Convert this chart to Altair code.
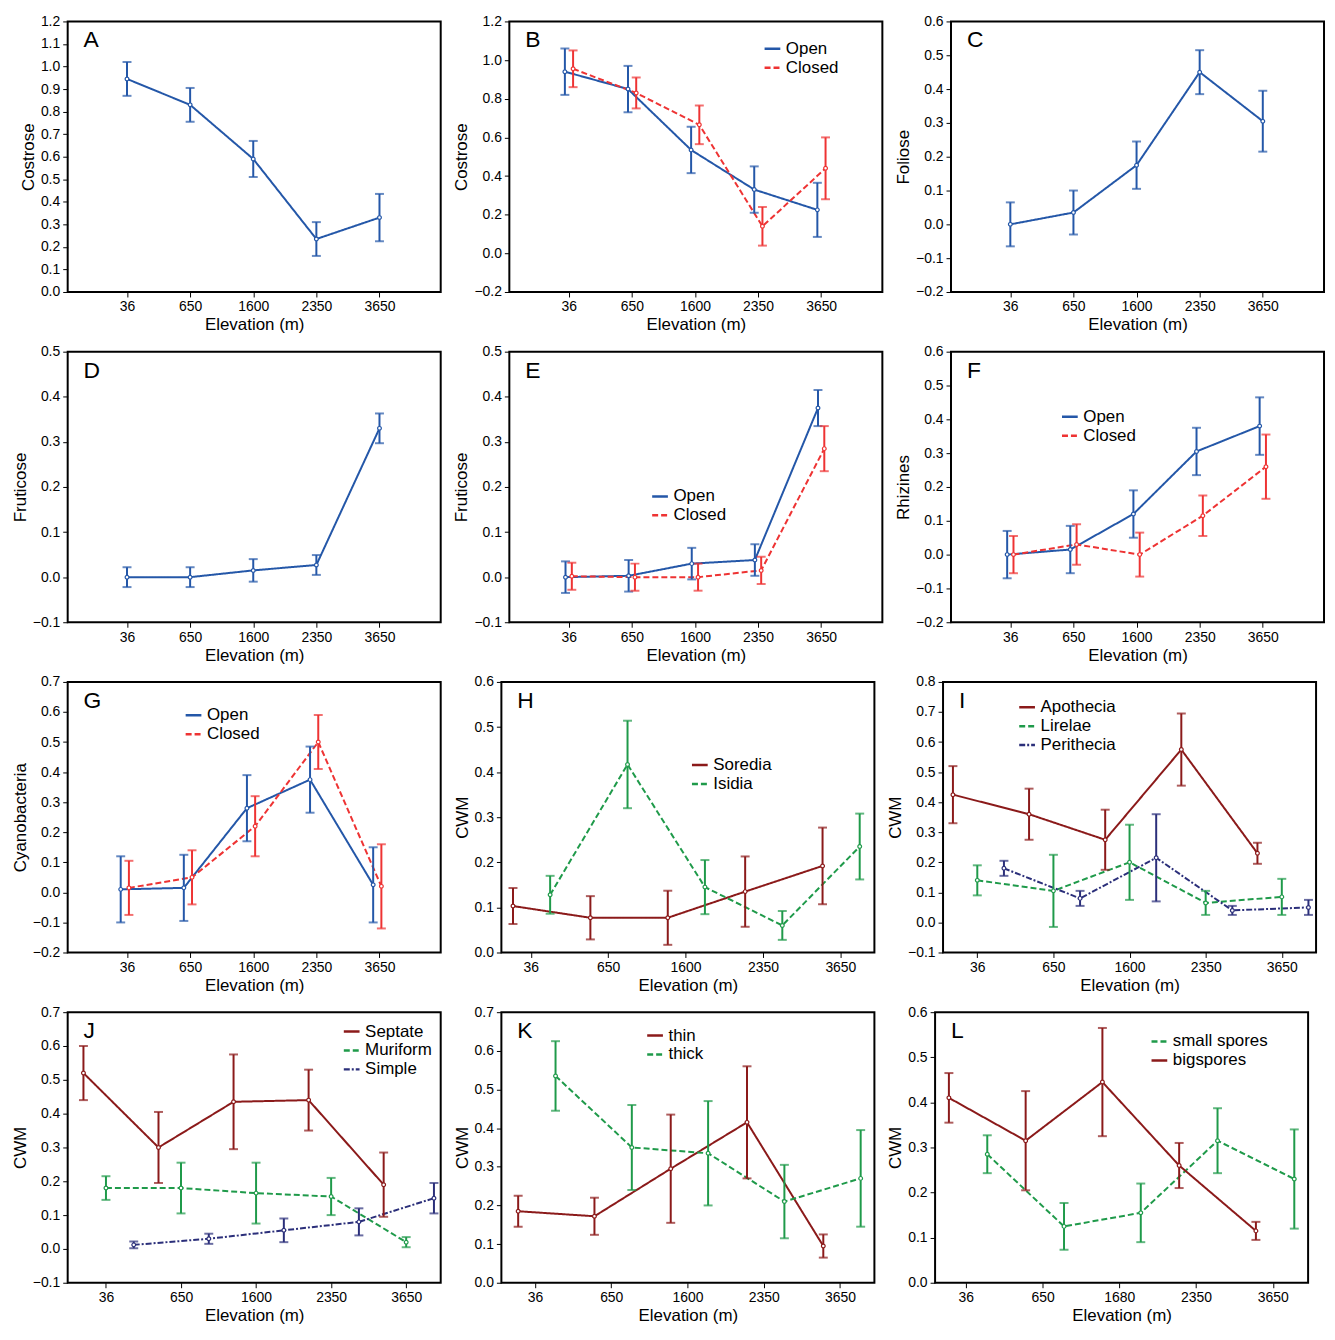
import altair as alt
import pandas as pd

BLUE, RED, DRED, GREEN, NAVY = "#2457a8", "#ee3333", "#8b1a1a", "#1f9a4a", "#2b2f7a"
L1 = ["36", "650", "1600", "2350", "3650"]
L2 = ["36", "650", "1680", "2350", "3650"]

# (name, color, dash, offset, values, errors)
A_s = [("Open", BLUE, [1, 0], 0.0, [0.945, 0.83, 0.59, 0.235, 0.33], [0.075, 0.075, 0.08, 0.075, 0.105])]
B_s = [("Open", BLUE, [1, 0], -0.06, [0.94, 0.85, 0.535, 0.33, 0.225], [0.12, 0.12, 0.12, 0.12, 0.14]),
       ("Closed", RED, [6, 3], 0.07, [0.955, 0.83, 0.665, 0.14, 0.44], [0.095, 0.08, 0.1, 0.1, 0.16])]
C_s = [("Open", BLUE, [1, 0], 0.0, [0.0, 0.035, 0.175, 0.45, 0.305], [0.065, 0.065, 0.07, 0.065, 0.09])]
D_s = [("Open", BLUE, [1, 0], 0.0, [0.0, 0.0, 0.015, 0.027, 0.33], [0.022, 0.022, 0.025, 0.022, 0.033])]
E_s = [("Open", BLUE, [1, 0], -0.05, [0.0, 0.003, 0.03, 0.038, 0.375], [0.035, 0.035, 0.035, 0.035, 0.04]),
       ("Closed", RED, [6, 3], 0.05, [0.002, 0.0, 0.0, 0.015, 0.285], [0.03, 0.03, 0.03, 0.03, 0.05])]
F_s = [("Open", BLUE, [1, 0], -0.05, [0.0, 0.015, 0.12, 0.305, 0.38], [0.07, 0.07, 0.07, 0.07, 0.085]),
       ("Closed", RED, [6, 3], 0.05, [0.0, 0.03, 0.0, 0.115, 0.26], [0.055, 0.06, 0.065, 0.06, 0.095])]
G_s = [("Open", BLUE, [1, 0], -0.1, [0.01, 0.015, 0.28, 0.375, 0.025], [0.11, 0.11, 0.11, 0.11, 0.125]),
       ("Closed", RED, [6, 3], 0.03, [0.015, 0.05, 0.22, 0.5, 0.02], [0.09, 0.09, 0.1, 0.09, 0.14])]
H_s = [("Soredia", DRED, [1, 0], -0.23, [0.103, 0.077, 0.077, 0.135, 0.192], [0.04, 0.048, 0.06, 0.078, 0.085]),
       ("Isidia", GREEN, [6, 3], 0.25, [0.128, 0.417, 0.145, 0.06, 0.235], [0.042, 0.097, 0.06, 0.032, 0.073])]
I_s = [("Apothecia", DRED, [1, 0], -0.32, [0.425, 0.36, 0.275, 0.575, 0.23], [0.095, 0.085, 0.1, 0.12, 0.035]),
       ("Lirelae", GREEN, [6, 3], 0.0, [0.14, 0.105, 0.2, 0.065, 0.085], [0.05, 0.12, 0.125, 0.04, 0.06]),
       ("Perithecia", NAVY, [6, 2, 2, 2], 0.35, [0.18, 0.08, 0.215, 0.04, 0.05], [0.025, 0.025, 0.145, 0.015, 0.025])]
J_s = [("Septate", DRED, [1, 0], -0.3, [0.52, 0.3, 0.435, 0.44, 0.19], [0.08, 0.105, 0.14, 0.09, 0.095]),
       ("Muriform", GREEN, [6, 3], 0.0, [0.18, 0.18, 0.165, 0.155, 0.02], [0.035, 0.075, 0.09, 0.055, 0.015]),
       ("Simple", NAVY, [6, 2, 2, 2], 0.37, [0.012, 0.03, 0.055, 0.08, 0.15], [0.01, 0.015, 0.035, 0.04, 0.045])]
K_s = [("thin", DRED, [1, 0], -0.22, [0.185, 0.172, 0.295, 0.415, 0.095], [0.04, 0.048, 0.14, 0.145, 0.03]),
       ("thick", GREEN, [6, 3], 0.27, [0.535, 0.35, 0.335, 0.21, 0.27], [0.09, 0.11, 0.135, 0.095, 0.125])]
L_s = [("small spores", GREEN, [6, 3], 0.28, [0.285, 0.125, 0.155, 0.315, 0.23], [0.042, 0.052, 0.065, 0.072, 0.11]),
       ("bigspores", DRED, [1, 0], -0.22, [0.41, 0.315, 0.445, 0.26, 0.115], [0.055, 0.11, 0.12, 0.05, 0.02])]

W, H = 375, 272
FONT = "Liberation Sans"


def panel(letter, ytitle, ydom, ystep, xdom, labels, series, legend=None):
    rows = []
    for name, col, dash, off, vals, errs in series:
        for i, (v, e) in enumerate(zip(vals, errs)):
            rows.append(dict(s=name, x=i + 1 + off, y=v, lo=v - e, hi=v + e))
    df = pd.DataFrame(rows)
    names = [s[0] for s in series]
    cols = [s[1] for s in series]
    dashes = [s[2] for s in series]
    lexpr = "[" + ",".join("'%s'" % l for l in labels) + "][datum.value-1]"
    n = int(round((ydom[1] - ydom[0]) / ystep))
    yvals = [round(ydom[0] + k * ystep, 3) for k in range(n + 1)]
    xs = alt.Scale(domain=xdom, nice=False, zero=False)
    ys = alt.Scale(domain=ydom, nice=False, zero=False)
    xax = alt.Axis(values=[1, 2, 3, 4, 5], labelExpr=lexpr, title="Elevation (m)",
                   grid=False, labelOverlap=False)
    yax = alt.Axis(values=yvals, format=".1f", title=ytitle, grid=False,
                   labelOverlap=False, labelFlush=False)
    x = alt.X("x:Q", scale=xs, axis=xax)
    Y = lambda f: alt.Y(f, scale=ys, axis=yax)
    if legend:
        leg = alt.Legend(title=None, orient="none", legendX=legend[0], legendY=legend[1],
                         symbolType="stroke", symbolSize=250, symbolStrokeWidth=2.5,
                         labelFontSize=17, labelFont=FONT, rowPadding=1, labelLimit=200,
                         labelColor="black")
    else:
        leg = None
    color = alt.Color("s:N", scale=alt.Scale(domain=names, range=cols), legend=leg)
    sdash = alt.StrokeDash("s:N", scale=alt.Scale(domain=names, range=dashes), legend=leg)
    cnol = alt.Color("s:N", scale=alt.Scale(domain=names, range=cols), legend=None)
    base = alt.Chart(df)
    line = base.mark_line(strokeWidth=2).encode(x=x, y=Y("y:Q"), color=color, strokeDash=sdash)
    rule = base.mark_rule(strokeWidth=2).encode(x=x, y=Y("lo:Q"), y2="hi:Q", color=cnol)
    tlo = base.mark_tick(orient="horizontal", size=9, thickness=2).encode(x=x, y=Y("lo:Q"), color=cnol)
    thi = base.mark_tick(orient="horizontal", size=9, thickness=2).encode(x=x, y=Y("hi:Q"), color=cnol)
    pt = base.mark_point(filled=True, fill="white", size=14, strokeWidth=1.2, opacity=1).encode(
        x=x, y=Y("y:Q"),
        stroke=alt.Stroke("s:N", scale=alt.Scale(domain=names, range=cols), legend=None))
    lab = alt.Chart(pd.DataFrame({"t": [letter]})).mark_text(
        align="left", baseline="top", fontSize=23, font=FONT).encode(
        x=alt.value(16), y=alt.value(8), text="t:N")
    return alt.layer(line, rule, tlo, thi, pt, lab).properties(width=W, height=H)


X1 = [0.06, 5.97]
rows = [
    [panel("A", "Costrose", [0, 1.2], 0.1, X1, L1, A_s),
     panel("B", "Costrose", [-0.2, 1.2], 0.2, X1, L1, B_s, (255, 18)),
     panel("C", "Foliose", [-0.2, 0.6], 0.1, X1, L1, C_s)],
    [panel("D", "Fruticose", [-0.1, 0.5], 0.1, X1, L1, D_s),
     panel("E", "Fruticose", [-0.1, 0.5], 0.1, X1, L1, E_s, (142, 136)),
     panel("F", "Rhizines", [-0.2, 0.6], 0.1, X1, L1, F_s, (110, 56))],
    [panel("G", "Cyanobacteria", [-0.2, 0.7], 0.1, X1, L1, G_s, (117, 24)),
     panel("H", "CWM", [0, 0.6], 0.1, [0.62, 5.44], L1, H_s, (190, 74)),
     panel("I", "CWM", [-0.1, 0.8], 0.1, [0.55, 5.45], L1, I_s, (75, 16))],
    [panel("J", "CWM", [-0.1, 0.7], 0.1, [0.49, 5.46], L1, J_s, (276, 10)),
     panel("K", "CWM", [0, 0.7], 0.1, [0.56, 5.45], L1, K_s, (145, 14)),
     panel("L", "CWM", [0, 0.6], 0.1, [0.6, 5.46], L2, L_s, (216, 20))],
]
res = dict(color="independent", strokeDash="independent", stroke="independent")
chart = alt.vconcat(
    *[alt.hconcat(*r, spacing=10).resolve_scale(**res) for r in rows], spacing=10
).resolve_scale(**res).properties(background="white", padding=2).configure_view(
    stroke="black", strokeWidth=2
).configure_axis(
    labelFont=FONT, titleFont=FONT, labelFontSize=14, titleFontSize=17, titleFontWeight="normal",
    labelColor="black", titleColor="black", domain=False, tickColor="black", titlePadding=3,
    labelPadding=3, labelOverlap=False
)
chart.save("out.html", embed_options={"renderer": "svg", "actions": False})
